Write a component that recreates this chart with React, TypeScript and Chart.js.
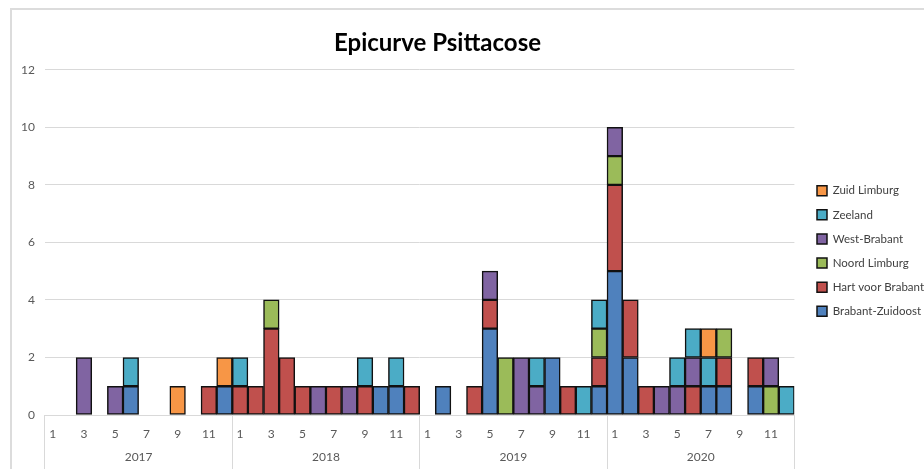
import React, { useEffect, useRef } from 'react';
import { Chart, registerables } from 'chart.js';

Chart.register(...registerables);

const years = ['2017', '2018', '2019', '2020'];
const monthsOfYear = ['1', '2', '3', '4', '5', '6', '7', '8', '9', '10', '11', '12'];
const categories = years.flatMap((y) => monthsOfYear.map((m) => `${y}-${m}`));

const brabantZuidoost = [
  0, 0, 0, 0, 0, 1, 0, 0, 0, 0, 0, 1,
  0, 0, 0, 0, 0, 0, 0, 0, 0, 1, 1, 0,
  0, 1, 0, 0, 3, 0, 0, 0, 2, 0, 0, 1,
  5, 2, 0, 0, 0, 0, 1, 1, 0, 1, 0, 0,
];
const hartVoorBrabant = [
  0, 0, 0, 0, 0, 0, 0, 0, 0, 0, 1, 0,
  1, 1, 3, 2, 1, 0, 1, 0, 1, 0, 0, 1,
  0, 0, 0, 1, 1, 0, 0, 0, 0, 1, 0, 1,
  3, 2, 1, 0, 0, 1, 0, 1, 0, 1, 0, 0,
];
const noordLimburg = [
  0, 0, 0, 0, 0, 0, 0, 0, 0, 0, 0, 0,
  0, 0, 1, 0, 0, 0, 0, 0, 0, 0, 0, 0,
  0, 0, 0, 0, 0, 2, 0, 0, 0, 0, 0, 1,
  1, 0, 0, 0, 0, 0, 0, 1, 0, 0, 1, 0,
];
const westBrabant = [
  0, 0, 2, 0, 1, 0, 0, 0, 0, 0, 0, 0,
  0, 0, 0, 0, 0, 1, 0, 1, 0, 0, 0, 0,
  0, 0, 0, 0, 1, 0, 2, 1, 0, 0, 0, 0,
  1, 0, 0, 1, 1, 1, 0, 0, 0, 0, 1, 0,
];
const zeeland = [
  0, 0, 0, 0, 0, 1, 0, 0, 0, 0, 0, 0,
  1, 0, 0, 0, 0, 0, 0, 0, 1, 0, 1, 0,
  0, 0, 0, 0, 0, 0, 0, 1, 0, 0, 1, 1,
  0, 0, 0, 0, 1, 1, 1, 0, 0, 0, 0, 1,
];
const zuidLimburg = [
  0, 0, 0, 0, 0, 0, 0, 0, 1, 0, 0, 1,
  0, 0, 0, 0, 0, 0, 0, 0, 0, 0, 0, 0,
  0, 0, 0, 0, 0, 0, 0, 0, 0, 0, 0, 0,
  0, 0, 0, 0, 0, 0, 1, 0, 0, 0, 0, 0,
];

const seriesNames = ['Brabant-Zuidoost', 'Hart voor Brabant', 'Noord Limburg', 'West-Brabant', 'Zeeland', 'Zuid Limburg'];
const seriesValues = [brabantZuidoost, hartVoorBrabant, noordLimburg, westBrabant, zeeland, zuidLimburg];
const seriesColors = ['#4F81BD', '#C0504D', '#9BBB59', '#8064A2', '#4BACC6', '#F79646'];
const yTicks = { min: 0, max: 12, step: 2 };

const FONT = 'Lato, "Liberation Sans", sans-serif';

const titleShift = {
  id: 'titleShift',
  afterLayout(chart: any) {
    const t = chart.titleBlock;
    if (t) {
      t.left -= 35;
      t.right -= 35;
    }
  },
};

export default function App() {
  const ref = useRef<HTMLCanvasElement | null>(null);

  useEffect(() => {
    document.body.style.margin = '0';
    const canvas = ref.current;
    if (!canvas) return;
    const chart = new Chart(canvas, {
      type: 'bar',
      data: {
        labels: categories,
        datasets: seriesNames.map((name, i) => ({
          label: name,
          data: seriesValues[i].map((v) => (v === 0 ? null : v)),
          backgroundColor: seriesColors[i],
          borderColor: '#111',
          borderWidth: 1.5,
          borderSkipped: false,
          barPercentage: 1,
          categoryPercentage: 1,
          stack: 's',
          xAxisID: 'x',
        })),
      },
      plugins: [titleShift],
      options: {
        animation: false,
        responsive: false,
        maintainAspectRatio: false,
        layout: { padding: { left: 11, right: 0, top: 0, bottom: 3 } },
        plugins: {
          title: {
            display: true,
            text: 'Epicurve Psittacose',
            color: '#000',
            font: { family: FONT, size: 24, weight: 'bold' },
            padding: { top: 29, bottom: 12 },
          },
          legend: {
            position: 'right',
            reverse: true,
            title: {
              display: true,
              text: ' ',
              font: { family: FONT, size: 10 },
              padding: { top: 12, bottom: 12 },
            },
            labels: {
              boxWidth: 10,
              boxHeight: 10,
              padding: 12.6,
              color: '#404040',
              font: { family: FONT, size: 11.5 },
            },
          },
          tooltip: { enabled: false },
        },
        scales: {
          x: {
            type: 'category',
            position: 'bottom',
            weight: 0,
            stacked: true,
            offset: true,
            grid: {
              display: true,
              drawOnChartArea: false,
              offset: true,
              tickLength: 60,
              color: (ctx: any) => (ctx.index === undefined || ctx.index % 12 === 0 ? '#d9d9d9' : 'rgba(0,0,0,0)'),
            },
            border: { display: true, color: '#d9d9d9' },
            ticks: {
              autoSkip: false,
              maxRotation: 0,
              padding: -48,
              color: '#595959',
              font: { family: FONT, size: 12 },
              callback: (_v: any, idx: number) => (idx % 2 === 0 ? monthsOfYear[idx % 12] : ''),
            },
            afterFit: (s: any) => {
              s.height = 27;
            },
          },
          year: {
            type: 'category',
            position: 'bottom',
            weight: 10,
            labels: years,
            offset: true,
            grid: { display: false, drawTicks: false },
            border: { display: false },
            ticks: {
              padding: 8,
              color: '#595959',
              font: { family: FONT, size: 12 },
            },
            afterFit: (s: any) => {
              s.height = 24;
            },
          },
          y: {
            stacked: true,
            min: yTicks.min,
            max: yTicks.max,
            grid: { color: '#d9d9d9', drawTicks: false },
            border: { display: false },
            ticks: {
              stepSize: yTicks.step,
              padding: 10,
              color: '#595959',
              font: { family: FONT, size: 12 },
            },
          },
          gap: {
            type: 'linear',
            position: 'right',
            display: true,
            min: 0,
            max: 1,
            grid: { display: false },
            border: { display: false },
            ticks: { display: false },
            afterFit: (s: any) => {
              s.width = 10;
            },
          },
        },
      },
    } as any);
    return () => chart.destroy();
  }, []);

  return (
    <div style={{ position: 'relative', width: 924, height: 469, overflow: 'hidden', background: '#fff' }}>
      <div
        style={{
          position: 'absolute',
          left: 10,
          top: 8,
          right: 0,
          bottom: 0,
          borderLeft: '2px solid #dcdcdc',
          borderTop: '2px solid #dcdcdc',
        }}
      />
      <canvas ref={ref} width={934} height={469} style={{ position: 'absolute', left: 0, top: 0 }} />
    </div>
  );
}
